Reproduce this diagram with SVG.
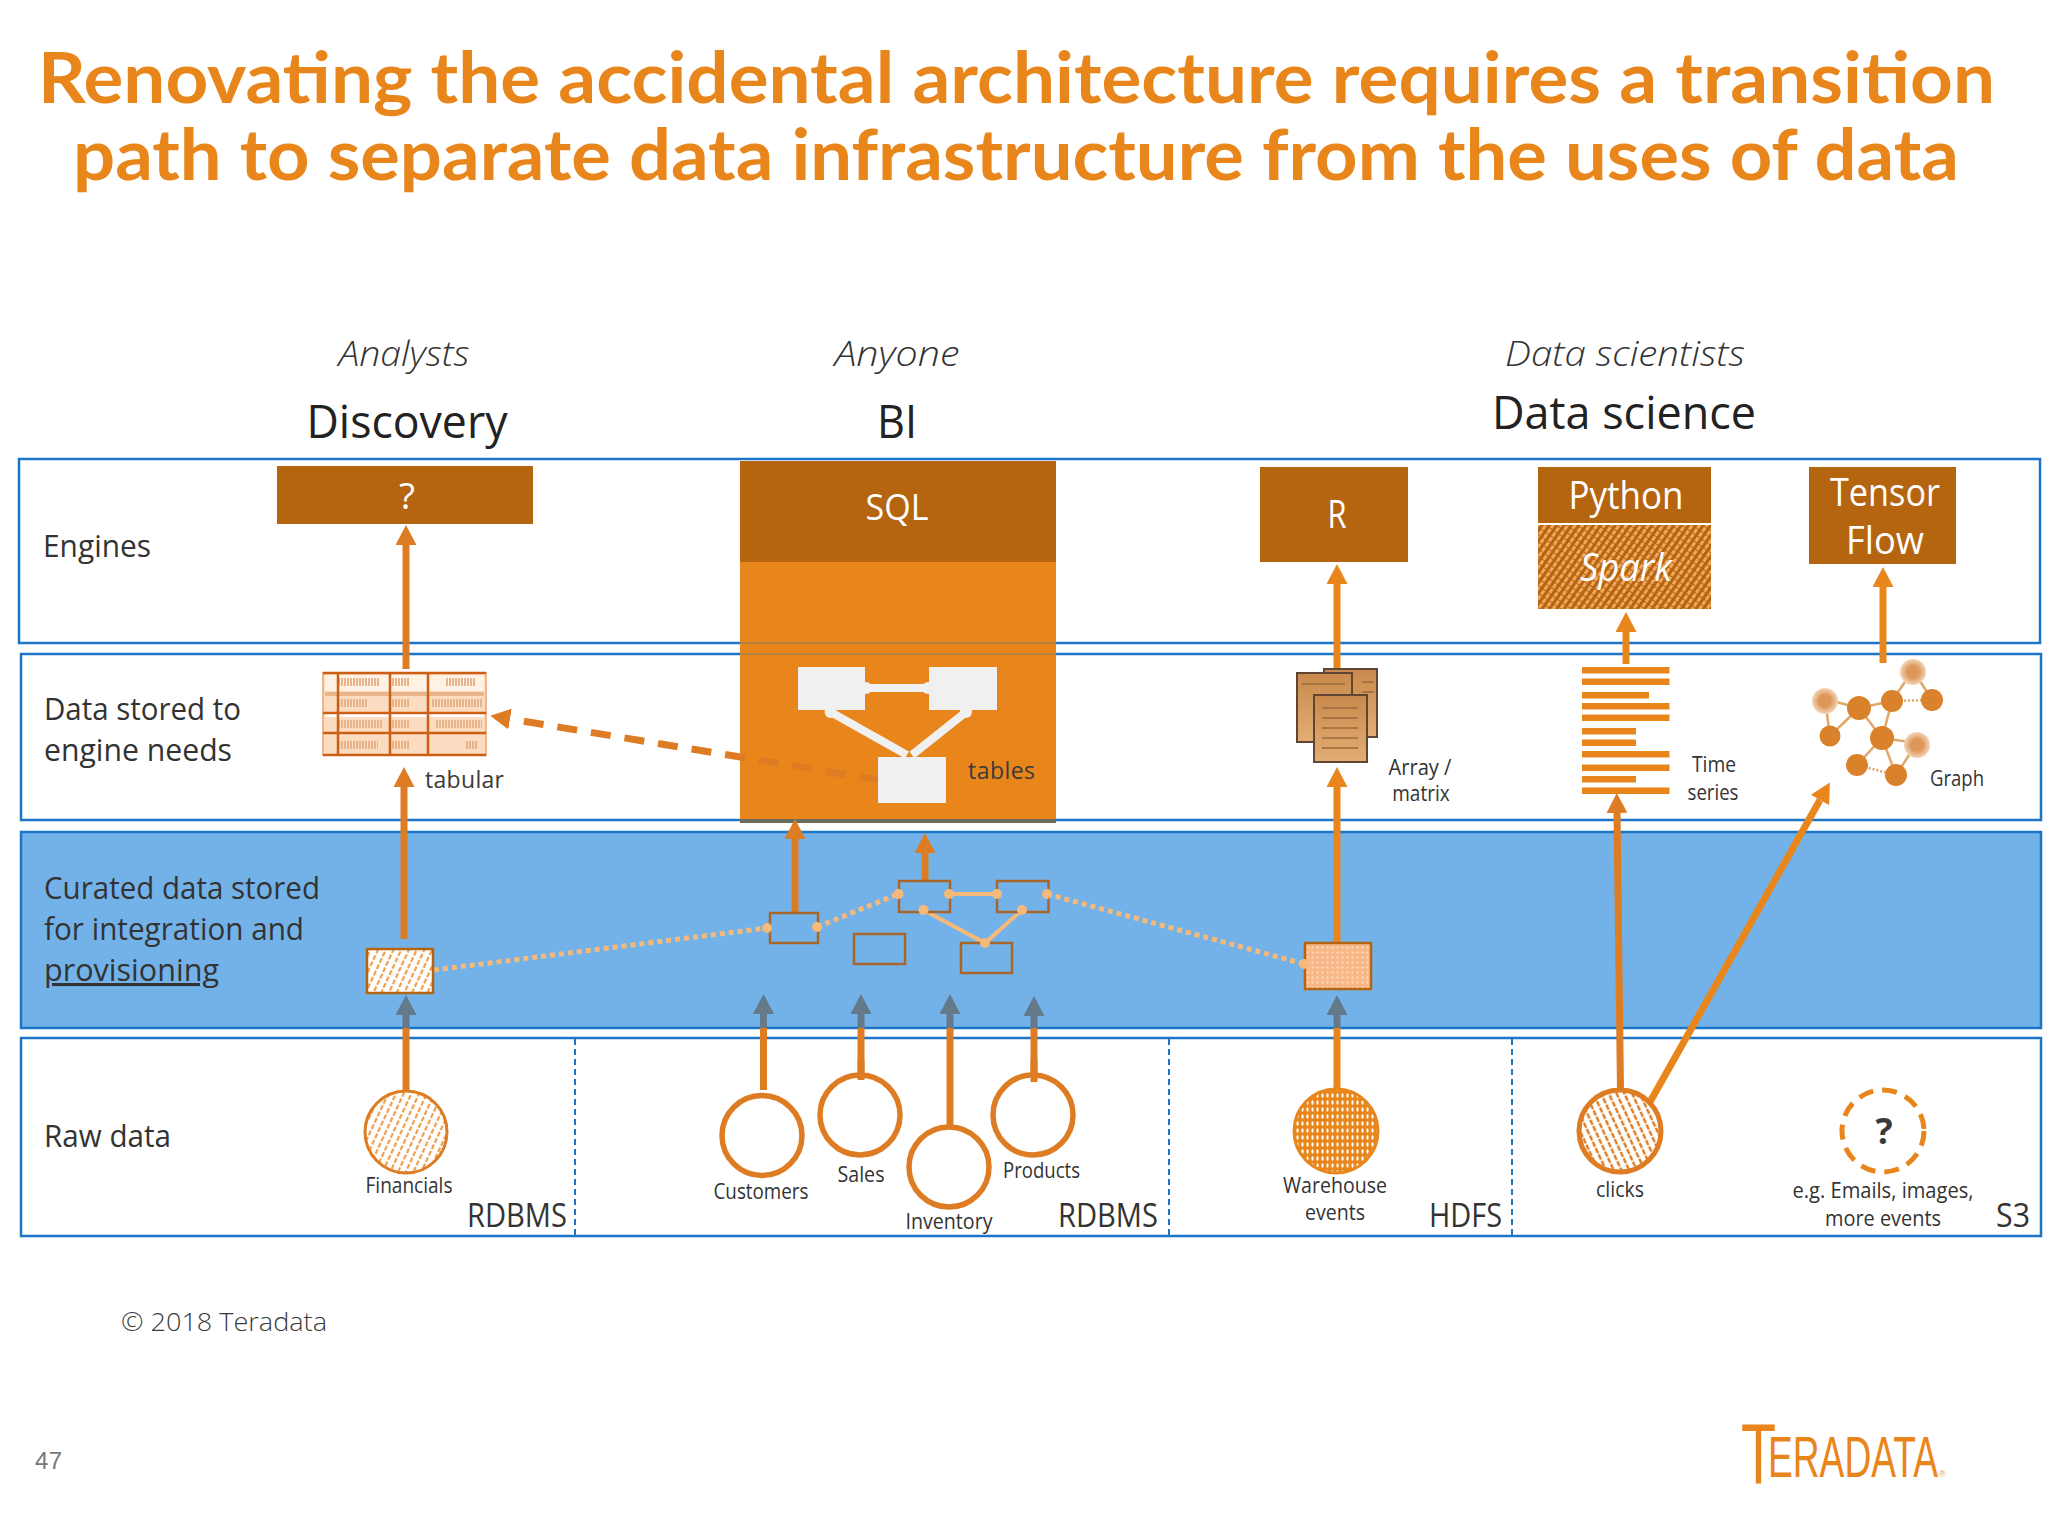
<svg xmlns="http://www.w3.org/2000/svg" width="2048" height="1536" viewBox="0 0 2048 1536">
<defs>
<style>
text{font-family:"Open Sans","Noto Sans","Liberation Sans",sans-serif;fill:#3a3a3a}
.title{font-family:Lato,"Open Sans",sans-serif;font-weight:700;font-size:70px;fill:#e8861c}
.head{font-size:46px;fill:#222;text-anchor:middle}
.who{font-size:34px;font-style:italic;font-weight:300;text-anchor:middle;fill:#333}
.row{font-size:31px;fill:#333}
.eng{font-size:36px;fill:#fff;text-anchor:middle}
.big{font-size:38px}
.sm{font-size:21px;text-anchor:middle;fill:#333}
.store{font-size:32px;fill:#333}
.band{fill:none;stroke:#1c75c8;stroke-width:2.5}
.div{stroke:#1c75c8;stroke-width:2;stroke-dasharray:6 4}
.conn{fill:none;stroke:#dd7c22;stroke-width:7}
.br{stroke:#e8861c}
.gray{stroke:#64798a}
.box{fill:none;stroke:#a8662a;stroke-width:2.5}
.dot{fill:none;stroke:#f5b97a;stroke-width:5;stroke-dasharray:5 4}
.sol{fill:none;stroke:#f5b97a;stroke-width:4}
.pt{fill:#f5b97a}
.ring{fill:#fff;stroke:#dd7c22;stroke-width:5.5}
.wb{fill:#f0f0f0}
.bar{fill:#e8861c}
.ed{stroke:#e0a868;stroke-width:2.5;fill:none}
.n{fill:#d9822b}
.nf{fill:url(#fade)}
.doc{fill:url(#paper);stroke:#5e4534;stroke-width:2}
.docl{stroke:#9c6a3a;stroke-width:1.5}
</style>
<marker id="a" markerUnits="userSpaceOnUse" markerWidth="20" markerHeight="21" refX="0" refY="10.5" orient="auto"><path d="M0,0L20,10.5L0,21Z" fill="#dd7c22"/></marker>
<marker id="b" markerUnits="userSpaceOnUse" markerWidth="20" markerHeight="21" refX="0" refY="10.5" orient="auto"><path d="M0,0L20,10.5L0,21Z" fill="#e8861c"/></marker>
<marker id="g" markerUnits="userSpaceOnUse" markerWidth="20" markerHeight="21" refX="0" refY="10.5" orient="auto"><path d="M0,0L20,10.5L0,21Z" fill="#64798a"/></marker>
<pattern id="h1" patternUnits="userSpaceOnUse" width="7" height="7" patternTransform="rotate(25)"><rect width="7" height="7" fill="#fff"/><path d="M2,0V5" stroke="#ee9f4e" stroke-width="2.200"/></pattern>
<pattern id="h2" patternUnits="userSpaceOnUse" width="5" height="7"><rect width="5" height="7" fill="#e8861c"/><ellipse cx="2.500" cy="3.500" rx="1.100" ry="2.200" fill="#fff"/></pattern>
<pattern id="h3" patternUnits="userSpaceOnUse" width="7" height="7" patternTransform="rotate(-25)"><rect width="7" height="7" fill="#fff"/><path d="M2,0V5.500" stroke="#dd7c22" stroke-width="2.400"/></pattern>
<pattern id="h4" patternUnits="userSpaceOnUse" width="6" height="6" patternTransform="rotate(35)"><rect width="6" height="6" fill="#b5650f"/><rect width="3" height="5" fill="#f0a65c"/></pattern>
<pattern id="h5" patternUnits="userSpaceOnUse" width="5" height="5"><rect width="5" height="5" fill="#f8b887"/><circle cx="2.500" cy="2.500" r="1" fill="#fde3cd"/></pattern>
<radialGradient id="fade"><stop offset="0.45" stop-color="#dd9658"/><stop offset="1" stop-color="#f3d6ba"/></radialGradient>
<linearGradient id="paper" x1="0" y1="0" x2="0" y2="1"><stop offset="0" stop-color="#c98a4c"/><stop offset="1" stop-color="#e3ad74"/></linearGradient>
</defs>
<rect width="2048" height="1536" fill="#fff"/>

<g id="title">
<text class="title" x="38" y="103" textLength="1957" lengthAdjust="spacingAndGlyphs">Renovating the accidental architecture requires a transition</text>
<text class="title" x="73" y="180" textLength="1886" lengthAdjust="spacingAndGlyphs">path to separate data infrastructure from the uses of data</text>
</g>

<g id="column-heads">
<text class="who" x="404" y="366" textLength="131" lengthAdjust="spacingAndGlyphs">Analysts</text>
<text class="who" x="897" y="366" textLength="125" lengthAdjust="spacingAndGlyphs">Anyone</text>
<text class="who" x="1625" y="366" textLength="240" lengthAdjust="spacingAndGlyphs">Data scientists</text>
<text class="head" x="407" y="438" textLength="201" lengthAdjust="spacingAndGlyphs">Discovery</text>
<text class="head" x="897" y="438" textLength="40" lengthAdjust="spacingAndGlyphs">BI</text>
<text class="head" x="1624" y="429" textLength="264" lengthAdjust="spacingAndGlyphs">Data science</text>
</g>

<g id="bands">
<rect class="band" x="19" y="459" width="2021" height="184"/>
<rect class="band" x="21" y="654" width="2020" height="166"/>
<rect x="21" y="832" width="2020" height="196" fill="#73b2e8" stroke="#1c75c8" stroke-width="2.500"/>
<rect class="band" x="21" y="1038" width="2020" height="198"/>
<line class="div" x1="575" y1="1039" x2="575" y2="1236"/>
<line class="div" x1="1169" y1="1039" x2="1169" y2="1236"/>
<line class="div" x1="1512" y1="1039" x2="1512" y2="1236"/>
<text class="row" x="43" y="557" textLength="108" lengthAdjust="spacingAndGlyphs">Engines</text>
<text class="row" x="44" y="720" textLength="197" lengthAdjust="spacingAndGlyphs">Data stored to</text>
<text class="row" x="44" y="761" textLength="188" lengthAdjust="spacingAndGlyphs">engine needs</text>
<text class="row" x="44" y="899" textLength="276" lengthAdjust="spacingAndGlyphs">Curated data stored</text>
<text class="row" x="44" y="940" textLength="260" lengthAdjust="spacingAndGlyphs">for integration and</text>
<text class="row" x="44" y="981" textLength="175" lengthAdjust="spacingAndGlyphs" text-decoration="underline">provisioning</text>
<text class="row" x="44" y="1147" textLength="127" lengthAdjust="spacingAndGlyphs">Raw data</text>
</g>

<g id="engine-unknown"><rect x="277" y="466" width="256" height="58" fill="#b5650f"/><text class="eng" x="407" y="509" textLength="16" lengthAdjust="spacingAndGlyphs">?</text></g>

<g id="engine-sql">
<rect x="740" y="461" width="316" height="362" fill="#e8861c"/>
<rect x="740" y="461" width="316" height="101" fill="#b5650f"/>
<rect x="740" y="819" width="316" height="4" fill="#6b6b60"/>
<line x1="740" y1="643" x2="1056" y2="643" stroke="#1c75c8" stroke-width="2" opacity=".25"/>
<line x1="740" y1="654" x2="1056" y2="654" stroke="#1c75c8" stroke-width="2" opacity=".25"/>
<text class="eng" x="897" y="520" textLength="63" lengthAdjust="spacingAndGlyphs">SQL</text>
<path d="M865,688H929M830.600,712L907,755M966,712L912,755" stroke="#f0f0f0" stroke-width="8" fill="none"/>
<circle class="wb" cx="830.600" cy="712" r="6"/><circle class="wb" cx="966" cy="712" r="6"/><circle class="wb" cx="866" cy="688" r="6"/><circle class="wb" cx="928" cy="688" r="6"/>
<rect class="wb" x="798" y="667" width="67" height="43"/>
<rect class="wb" x="929" y="667" width="68" height="43"/>
<text x="968" y="779" font-size="23" textLength="67" lengthAdjust="spacing" fill="#333">tables</text>
</g>

<g id="engine-r"><rect x="1260" y="467" width="148" height="95" fill="#b5650f"/><text class="eng big" x="1337" y="528" textLength="19" lengthAdjust="spacingAndGlyphs">R</text></g>
<g id="engine-python"><rect x="1538" y="467" width="173" height="56" fill="#b5650f"/><rect x="1538" y="525" width="173" height="84" fill="url(#h4)"/>
<text class="eng big" x="1626" y="509" textLength="115" lengthAdjust="spacingAndGlyphs">Python</text>
<text class="eng big" x="1626" y="581" font-style="italic" textLength="92" lengthAdjust="spacingAndGlyphs">Spark</text></g>
<g id="engine-tensorflow"><rect x="1809" y="467" width="147" height="97" fill="#b5650f"/>
<text class="eng big" x="1885" y="506" textLength="110" lengthAdjust="spacingAndGlyphs">Tensor</text>
<text class="eng big" x="1885" y="554" textLength="78" lengthAdjust="spacingAndGlyphs">Flow</text></g>

<g id="connectors">
<path class="conn" d="M406,669V545" marker-end="url(#a)"/>
<path class="conn" d="M404,939V787" marker-end="url(#a)"/>
<path class="conn" d="M406,1092V1028"/><path class="conn gray" d="M406,1028V1015" marker-end="url(#g)"/>
<path class="conn" d="M879,780L510,719" stroke-width="5.500" stroke-dasharray="20 14" marker-end="url(#a)"/>
<path class="conn" d="M795,913V839" marker-end="url(#a)"/>
<path class="conn" d="M925,881V853" marker-end="url(#a)"/>
<path class="conn" d="M763.500,1090V1028"/><path class="conn gray" d="M763.500,1028V1014" marker-end="url(#g)"/>
<path class="conn" d="M861,1080V1028"/><path class="conn gray" d="M861,1028V1014" marker-end="url(#g)"/>
<path class="conn" d="M950,1125V1028"/><path class="conn gray" d="M950,1028V1014" marker-end="url(#g)"/>
<path class="conn" d="M1034,1082V1028"/><path class="conn gray" d="M1034,1028V1016" marker-end="url(#g)"/>
<path class="conn br" d="M1337,668V584" marker-end="url(#b)"/>
<path class="conn br" d="M1337,943V787" marker-end="url(#b)"/>
<path class="conn br" d="M1337,1088V1028"/><path class="conn gray" d="M1337,1028V1015" marker-end="url(#g)"/>
<path class="conn br" d="M1626,664V632" marker-end="url(#b)"/>
<path class="conn br" d="M1883,663V587" marker-end="url(#b)"/>
<path class="conn" d="M1620.500,1090L1617,813" marker-end="url(#a)"/>
<path class="conn br" d="M1650,1102L1820,800" marker-end="url(#b)"/>
<path class="dot" d="M434,970L767,928"/>
<path class="dot" d="M817,927L898,894"/>
<path class="dot" d="M1047,894L1304,964"/>
<path class="sol" d="M949,894H997M923.500,910L985,943L1022,910"/>
</g>

<g id="store-tabular">
<rect x="323" y="673" width="163" height="82" fill="#fbdcc0" stroke="#f0b58a" stroke-width="2"/>
<rect x="325" y="675" width="159" height="16" fill="#fff1e4"/>
<rect x="325" y="692" width="159" height="4" fill="#e9b487"/>
<rect x="325" y="713" width="159" height="4" fill="#fff"/>
<path d="M338,682h42M392,682h18M446,682h30M338,703h30M392,703h18M432,703h50M338,724h44M392,724h18M436,724h46M338,745h40M392,745h18M466,745h12" stroke="#e8b48c" stroke-width="8" stroke-dasharray="2 1" fill="none"/>
<path d="M323,673H486M323,713H486M323,733H486M323,755H486M338,673V755M390,673V755M428,673V755" stroke="#cc5f14" stroke-width="2.500" fill="none"/>
<text x="425" y="788" font-size="23" textLength="79" lengthAdjust="spacing" fill="#333">tabular</text>
</g>

<g id="store-array">
<rect class="doc" x="1324" y="669" width="53" height="68"/>
<rect class="doc" x="1297" y="673" width="55" height="69"/>
<rect class="doc" x="1314" y="695" width="53" height="67"/>
<path class="docl" d="M1322,708H1358M1322,718H1358M1322,728H1358M1322,738H1358M1322,748H1358M1302,684H1345M1362,682H1374M1362,692H1374"/>
<text class="sm" x="1420" y="775" textLength="63" lengthAdjust="spacingAndGlyphs">Array /</text>
<text class="sm" x="1421" y="801" textLength="57.500" lengthAdjust="spacingAndGlyphs">matrix</text>
</g>

<g id="store-timeseries">
<rect class="bar" x="1582" y="667" width="87.500" height="6.500"/><rect class="bar" x="1582" y="678.500" width="87.500" height="6.500"/>
<rect class="bar" x="1582" y="692" width="67" height="6.500"/><rect class="bar" x="1582" y="703" width="87.500" height="6.500"/>
<rect class="bar" x="1582" y="714.500" width="87.500" height="6.500"/><rect class="bar" x="1582" y="728" width="54" height="6.500"/>
<rect class="bar" x="1582" y="739.500" width="54" height="6.500"/><rect class="bar" x="1582" y="751" width="87.500" height="6.500"/>
<rect class="bar" x="1582" y="764.500" width="87.500" height="6.500"/><rect class="bar" x="1582" y="776" width="54" height="6.500"/>
<rect class="bar" x="1582" y="787.500" width="87.500" height="6.500"/>
<text class="sm" x="1714" y="772" textLength="44" lengthAdjust="spacingAndGlyphs">Time</text>
<text class="sm" x="1713" y="800" textLength="51" lengthAdjust="spacingAndGlyphs">series</text>
</g>

<g id="store-graph">
<path class="ed" d="M1913,670L1892,701M1913,670L1932,700M1892,701L1859,708M1859,708L1825,699M1859,708L1830,736M1825,699L1830,736M1859,708L1882,738M1892,701L1882,738M1882,738L1917,743M1882,738L1857,765M1917,743L1896,775M1882,738L1896,775"/>
<path class="ed" stroke-dasharray="2 2" d="M1892,701L1932,700M1857,765L1896,775"/>
<circle class="nf" cx="1913" cy="672" r="13"/><circle class="n" cx="1932" cy="700" r="11"/><circle class="n" cx="1892" cy="701" r="11"/><circle class="n" cx="1859" cy="708" r="12"/><circle class="nf" cx="1825" cy="701" r="13"/><circle class="n" cx="1830" cy="736" r="10.500"/><circle class="n" cx="1882" cy="738" r="12"/><circle class="nf" cx="1917" cy="745" r="13"/><circle class="n" cx="1857" cy="765" r="11"/><circle class="n" cx="1896" cy="775" r="11"/>
<text class="sm" x="1957" y="786" textLength="54" lengthAdjust="spacingAndGlyphs">Graph</text>
</g>

<g id="curated">
<rect id="curated-financials" x="367" y="949" width="66" height="44" fill="url(#h1)" stroke="#b5650f" stroke-width="2.500"/>
<rect class="box" x="770" y="913" width="48" height="30"/>
<rect class="box" x="899" y="881" width="51" height="31"/>
<rect class="box" x="997" y="881" width="51.500" height="31"/>
<rect class="box" x="854" y="934" width="51" height="30"/>
<rect class="box" x="961" y="943" width="51" height="30"/>
<rect id="curated-warehouse" x="1305" y="943" width="66" height="46" fill="url(#h5)" stroke="#b5650f" stroke-width="2.500"/>
<g class="pt"><circle cx="767" cy="928" r="5"/><circle cx="817" cy="927" r="5"/><circle cx="898.500" cy="894" r="5"/><circle cx="949" cy="894" r="5"/><circle cx="997" cy="894" r="5"/><circle cx="1047" cy="894" r="5"/><circle cx="923.500" cy="910" r="5"/><circle cx="1022" cy="910" r="5"/><circle cx="985" cy="943" r="5"/><circle cx="1304" cy="964" r="5"/></g>
</g>

<rect class="wb" id="sql-table-c" x="878" y="757" width="68" height="46"/>

<g id="raw-financials"><circle cx="406" cy="1132" r="41" fill="url(#h1)" stroke="#dd7c22" stroke-width="3"/><text class="sm" x="409" y="1193" textLength="87" lengthAdjust="spacingAndGlyphs">Financials</text></g>
<g id="raw-customers"><circle class="ring" cx="762" cy="1135.500" r="40"/><text class="sm" x="761" y="1199" textLength="95" lengthAdjust="spacingAndGlyphs">Customers</text></g>
<g id="raw-sales"><circle class="ring" cx="860" cy="1115" r="40"/><text class="sm" x="861" y="1182" textLength="47" lengthAdjust="spacingAndGlyphs">Sales</text></g>
<g id="raw-inventory"><circle class="ring" cx="949" cy="1167" r="40"/><text class="sm" x="949" y="1229" textLength="87" lengthAdjust="spacingAndGlyphs">Inventory</text></g>
<g id="raw-products"><circle class="ring" cx="1033" cy="1115" r="40"/><text class="sm" x="1041.500" y="1178" textLength="77" lengthAdjust="spacingAndGlyphs">Products</text></g>
<path class="conn" d="M861,1060V1080M1034,1060V1082"/>
<g id="raw-warehouse"><circle cx="1336" cy="1131" r="42" fill="url(#h2)" stroke="#e8861c" stroke-width="3"/>
<text class="sm" x="1335" y="1193" textLength="104" lengthAdjust="spacingAndGlyphs">Warehouse</text>
<text class="sm" x="1335" y="1220" textLength="60" lengthAdjust="spacingAndGlyphs">events</text></g>
<g id="raw-clicks"><circle cx="1620" cy="1131" r="41" fill="url(#h3)" stroke="#dd7c22" stroke-width="5"/><text class="sm" x="1620" y="1197" textLength="48" lengthAdjust="spacingAndGlyphs">clicks</text></g>
<g id="raw-unknown"><circle cx="1883" cy="1131" r="41" fill="#fff" stroke="#e8861c" stroke-width="5" stroke-dasharray="15 9"/>
<text x="1884" y="1144" font-size="36" font-weight="700" text-anchor="middle">?</text>
<text class="sm" x="1883" y="1198" textLength="181" lengthAdjust="spacingAndGlyphs">e.g. Emails, images,</text>
<text class="sm" x="1883" y="1226" textLength="116" lengthAdjust="spacingAndGlyphs">more events</text></g>

<g id="stores">
<text class="store" x="467" y="1227" textLength="100" lengthAdjust="spacingAndGlyphs">RDBMS</text>
<text class="store" x="1058" y="1227" textLength="100" lengthAdjust="spacingAndGlyphs">RDBMS</text>
<text class="store" x="1429" y="1227" textLength="73" lengthAdjust="spacingAndGlyphs">HDFS</text>
<text class="store" x="1996" y="1227" textLength="34" lengthAdjust="spacingAndGlyphs">S3</text>
</g>

<g id="footer">
<text x="121" y="1331" font-size="25" font-weight="300" fill="#555" textLength="206" lengthAdjust="spacingAndGlyphs">© 2018 Teradata</text>
<text x="35" y="1469" font-size="24" style="font-family:'Liberation Sans',sans-serif;fill:#777" textLength="27">47</text>
</g>

<g id="logo">
<text x="1741" y="1483" font-size="85" style="font-family:'Liberation Sans',sans-serif;fill:#e8861c" textLength="35" lengthAdjust="spacingAndGlyphs">T</text>
<text x="1768" y="1477" font-size="58" style="font-family:'Liberation Sans',sans-serif;fill:#e8861c" textLength="170" lengthAdjust="spacingAndGlyphs">ERADATA</text>
<text x="1939" y="1477" font-size="9" style="font-family:'Liberation Sans',sans-serif;fill:#e8a25c">®</text>
</g>
</svg>
